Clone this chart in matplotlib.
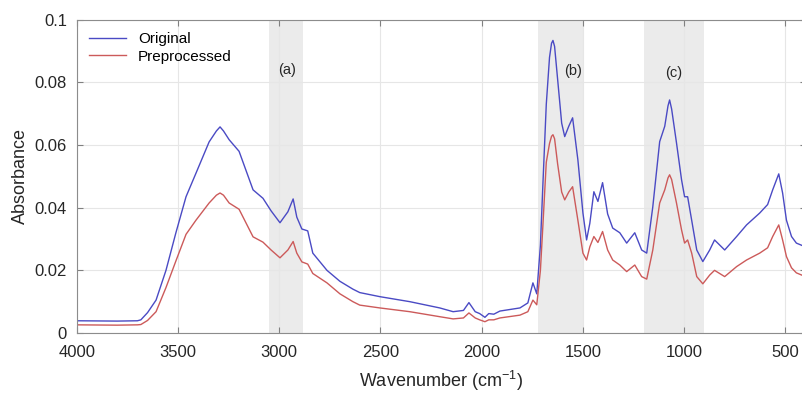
import matplotlib
matplotlib.use("Agg")
import matplotlib.pyplot as plt
from matplotlib.ticker import FuncFormatter

plt.rcParams['font.family'] = ['Liberation Sans', 'DejaVu Sans']
plt.rcParams['mathtext.fontset'] = 'custom'
plt.rcParams['mathtext.rm'] = 'Liberation Sans'

# FTIR spectrum, values
wavenumber = [4000, 3800, 3700, 3683, 3650, 3608, 3559, 3510, 3460, 3411, 3346,
              3310, 3292, 3275, 3247, 3198, 3129, 3080, 3040, 2996, 2957, 2931,
              2913, 2888, 2859, 2834, 2764, 2700, 2636, 2602, 2503, 2355, 2207,
              2141, 2090, 2063, 2032, 2010, 1984, 1965, 1940, 1910, 1811, 1772,
              1747, 1728, 1710, 1698, 1681, 1665, 1655, 1648, 1640, 1625, 1605,
              1590, 1570, 1551, 1525, 1500, 1482, 1466, 1446, 1426, 1403, 1378,
              1353, 1318, 1284, 1244, 1210, 1185, 1155, 1121, 1096, 1080, 1072,
              1062, 1038, 1013, 998, 983, 963, 938, 908, 874, 850, 800, 741, 692,
              627, 588, 563, 533, 514, 495, 470, 446, 420]
original = [0.0039, 0.0038, 0.0039, 0.0042, 0.0065, 0.0105, 0.020, 0.032, 0.0435,
            0.051, 0.061, 0.0645, 0.0658, 0.0645, 0.0617, 0.058, 0.0457, 0.043,
            0.039, 0.0352, 0.0387, 0.0428, 0.037, 0.0332, 0.0326, 0.0255, 0.020,
            0.0165, 0.014, 0.0129, 0.0116, 0.0100, 0.0080, 0.0068, 0.0072,
            0.0097, 0.0068, 0.0062, 0.0050, 0.0062, 0.0060, 0.0070, 0.0080,
            0.0096, 0.016, 0.0125, 0.028, 0.047, 0.073, 0.088, 0.0925, 0.0934,
            0.0915, 0.081, 0.067, 0.0627, 0.066, 0.0687, 0.0553, 0.0383, 0.0297,
            0.035, 0.0451, 0.042, 0.048, 0.038, 0.0335, 0.032, 0.0287, 0.032,
            0.0265, 0.0255, 0.0403, 0.0611, 0.066, 0.0725, 0.0744, 0.0715,
            0.0607, 0.0489, 0.0435, 0.0435, 0.036, 0.0265, 0.0228, 0.0265,
            0.0297, 0.0265, 0.0308, 0.0345, 0.0383, 0.041, 0.0457, 0.0508,
            0.0447, 0.036, 0.0308, 0.0287, 0.028]
preprocessed = [0.0026, 0.0025, 0.0026, 0.0027, 0.0040, 0.0068, 0.0145, 0.0230,
                0.0315, 0.0360, 0.0415, 0.0440, 0.0447, 0.0440, 0.0415, 0.0395,
                0.0307, 0.029, 0.0265, 0.024, 0.0265, 0.0292, 0.0255, 0.0227,
                0.022, 0.019, 0.016, 0.0125, 0.010, 0.0089, 0.0080, 0.0068,
                0.0052, 0.0045, 0.0048, 0.0064, 0.0048, 0.0042, 0.0036, 0.0042,
                0.0042, 0.0048, 0.0057, 0.0068, 0.0105, 0.0090, 0.020, 0.034,
                0.0545, 0.0605, 0.0628, 0.0633, 0.062, 0.054, 0.045, 0.0425,
                0.045, 0.0467, 0.036, 0.0255, 0.0233, 0.0275, 0.0308, 0.0289,
                0.0324, 0.0265, 0.0233, 0.0217, 0.0196, 0.0217, 0.018, 0.0172,
                0.0265, 0.0415, 0.0457, 0.0495, 0.0505, 0.049, 0.0415, 0.0329,
                0.0287, 0.0297, 0.0255, 0.018, 0.0157, 0.0185, 0.020, 0.018,
                0.0212, 0.0233, 0.0255, 0.0272, 0.0308, 0.0345, 0.0297, 0.0244,
                0.0208, 0.0192, 0.0185]

# shaded regions and their labels
bands = [(3050, 2880), (1720, 1500), (1200, 900)]
band_labels = ['(a)', '(b)', '(c)']
label_pos = [(2960, 0.084), (1550, 0.0835), (1050, 0.083)]

fig = plt.figure(figsize=(8.02, 3.93), dpi=100)
ax = fig.add_axes([0.0956, 0.1527, 0.909, 0.797])

for (hi, lo), lab, (lx, ly) in zip(bands, band_labels, label_pos):
    ax.axvspan(lo, hi, color='#ebebeb', lw=0, zorder=0)
    ax.text(lx, ly, lab, ha='center', va='center', fontsize=10.5, color='#262626')

ax.plot(wavenumber, original, color='#4a4ac4', lw=1, label='Original')
ax.plot(wavenumber, preprocessed, color='#cc5a5a', lw=1, label='Preprocessed')

ax.set_xlim(4000, 400)
ax.set_ylim(0, 0.1)
ax.set_xticks([4000, 3500, 3000, 2500, 2000, 1500, 1000, 500])
ax.set_yticks([0, 0.02, 0.04, 0.06, 0.08, 0.1])
ax.yaxis.set_major_formatter(FuncFormatter(lambda v, p: '%g' % round(v, 3)))
ax.grid(True, color='#e6e6e6', lw=0.8)
ax.set_axisbelow(True)
ax.tick_params(direction='in', top=True, right=True, length=4, color='#808080',
               labelsize=12, labelcolor='#262626')
ax.tick_params(axis='x', pad=9)
ax.tick_params(axis='y', pad=7)
for s in ax.spines.values():
    s.set_color('#8c8c8c')

ax.set_xlabel(r'Wavenumber (cm$^{\mathregular{-1}}$)', fontsize=13, color='#262626',
              labelpad=6)
ax.set_ylabel('Absorbance', fontsize=13, color='#262626')
ax.legend(loc='upper left', frameon=False, fontsize=11, handlelength=2.4,
          borderaxespad=0.3, labelspacing=0.25, borderpad=0.5)

plt.savefig('out.png', dpi=100)
